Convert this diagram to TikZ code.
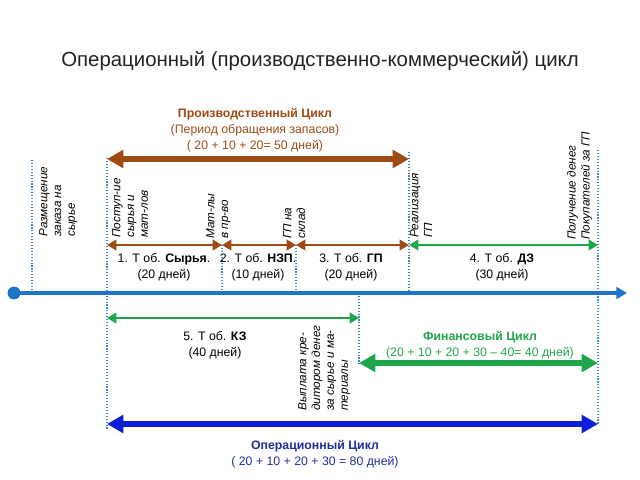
\documentclass[tikz,border=0pt]{standalone}
\usepackage{fontspec}
\setmainfont{Liberation Sans}
\usetikzlibrary{arrows.meta,positioning,calc}
\definecolor{prod}{HTML}{9E4A12}
\definecolor{fin}{HTML}{1FA64A}
\definecolor{axis}{HTML}{1E74C6}
\definecolor{guide}{HTML}{3A8AC4}
\definecolor{oper}{HTML}{0C1FD4}
\definecolor{opertext}{HTML}{1F2E9E}
\definecolor{titlecol}{HTML}{222222}
\tikzset{
  guideline/.style={guide,line width=1.3pt,dash pattern=on 1pt off 1.5pt},
  thinarr/.style={line width=2.4pt,{Triangle[length=8pt,width=9pt]}-{Triangle[length=8pt,width=9pt]}},
  bigarr/.style={line width=5.5pt,{Triangle[length=14pt,width=15pt]}-{Triangle[length=14pt,width=15pt]}},
  lab/.style={font=\fontsize{10.5}{13.5}\selectfont,align=center},
  vlab/.style={font=\fontsize{10}{11.8}\selectfont\itshape,rotate=90,anchor=north west,align=left,inner sep=0pt},
}

\begin{document}
\begin{tikzpicture}[x=0.03cm,y=-0.03cm]
  \useasboundingbox (0,0) rectangle (640,480);
  % points on the time axis
  \foreach \name/\x in {start/14, ord/32, inp/107, mat/222, gp/296, pay/359, sale/409, cash/598, end/627} {
    \coordinate (\name) at (\x,293);
  }
  % rows of the arrows
  \foreach \name/\y in {rtop/159, rmid/245, rkz/318, rfin/363, rop/424} {
    \coordinate (\name) at (0,\y);
  }
  \node[font=\fontsize{17.4}{20}\selectfont,titlecol] (title) at (320,61) {Операционный (производственно-коммерческий) цикл};
  % dotted guides
  \foreach \x/\a/\b in {32/160/293, 107/158/430, 222/245/293, 296/245/293, 409/152/293, 359/293/365, 598/150/424} {
    \draw[guideline] (\x,\a) -- (\x,\b);
  }
  \draw[axis,line width=2.8pt,-{Triangle[length=9pt,width=10pt]}] (start) -- (end);
  \fill[axis] (start) circle (5.5pt);
  % production cycle
  \draw[prod,bigarr] (inp |- rtop) -- (sale |- rtop);
  \node[lab,prod] (prodlab) at (255,130) {\textbf{Производственный Цикл}\\(Период обращения запасов)\\( 20 + 10 + 20= 50 дней)};
  \draw[prod,thinarr] (inp |- rmid) -- (mat |- rmid);
  \draw[prod,thinarr] (mat |- rmid) -- (gp |- rmid);
  \draw[prod,thinarr] (gp |- rmid) -- (sale |- rmid);
  \draw[fin,thinarr] (sale |- rmid) -- (cash |- rmid);
  \node[lab] (raw) at (164,267) {1. Т об. \textbf{Сырья}.\\(20 дней)};
  \node[lab] (wip) at (258,267) {2. Т об. \textbf{НЗП}.\\(10 дней)};
  \node[lab] (fin) at (351,267) {3. Т об. \textbf{ГП}\\(20 дней)};
  \node[lab] (recv) at (502,267) {4. Т об. \textbf{ДЗ}\\(30 дней)};
  % payables and financial cycle
  \draw[fin,thinarr] (inp |- rkz) -- (pay |- rkz);
  \node[lab] (payab) at (215,345) {5. Т об. \textbf{КЗ}\\(40 дней)};
  \draw[fin,bigarr] (pay |- rfin) -- (cash |- rfin);
  \node[lab,fin] (finlab) at (480,345) {\textbf{Финансовый Цикл}\\(20 + 10 + 20 + 30 – 40= 40 дней)};
  % operating cycle
  \draw[oper,bigarr] (inp |- rop) -- (cash |- rop);
  \node[lab,opertext] (operlab) at (315,454) {\textbf{Операционный Цикл}\\( 20 + 10 + 20 + 30 = 80 дней)};
  % events
  \node[vlab] (ev1) at (39,237) {Размещение\\заказа на\\сырье};
  \node[vlab] (ev2) at (112,238) {Поступ-ие\\сырья и\\мат-лов};
  \node[vlab] (ev3) at (206,239) {Мат-лы\\в пр-во};
  \node[vlab] (ev4) at (283,239) {ГП на\\склад};
  \node[vlab] (ev5) at (410,238) {Реализация\\ГП};
  \node[vlab] (ev6) at (567,240) {Получение денег\\Покупателей за ГП};
  \node[vlab] (ev7) at (298,411) {Выплата кре-\\дитором денег\\за сырье и ма-\\териалы};
\end{tikzpicture}
\end{document}
